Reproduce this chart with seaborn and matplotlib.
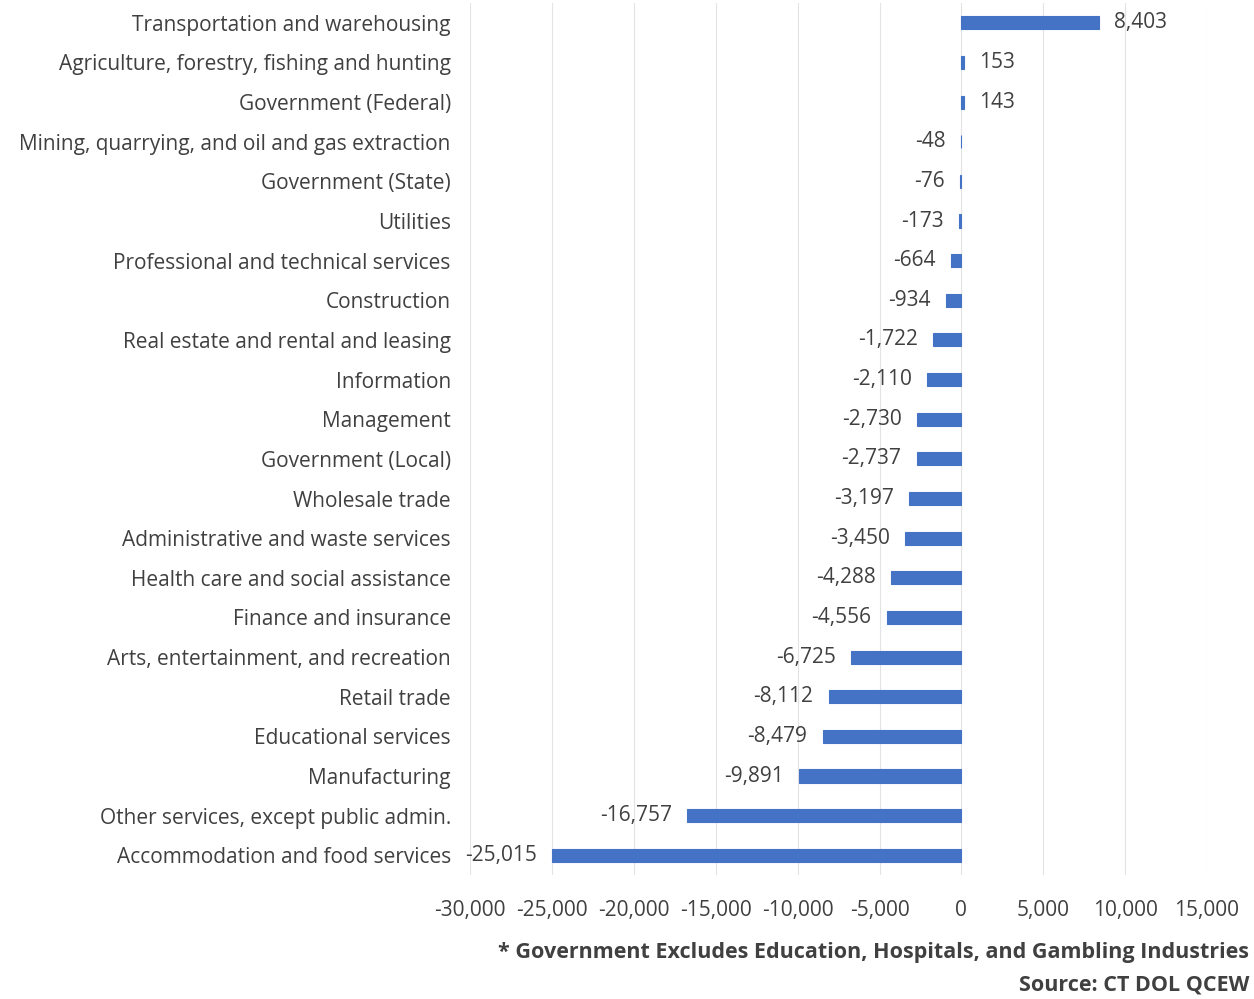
import matplotlib
matplotlib.use("Agg")
import matplotlib.pyplot as plt
import seaborn as sns
import pandas as pd
from matplotlib.ticker import FuncFormatter

industries = [
    "Transportation and warehousing",
    "Agriculture, forestry, fishing and hunting",
    "Government (Federal)",
    "Mining, quarrying, and oil and gas extraction",
    "Government (State)",
    "Utilities",
    "Professional and technical services",
    "Construction",
    "Real estate and rental and leasing",
    "Information",
    "Management",
    "Government (Local)",
    "Wholesale trade",
    "Administrative and waste services",
    "Health care and social assistance",
    "Finance and insurance",
    "Arts, entertainment, and recreation",
    "Retail trade",
    "Educational services",
    "Manufacturing",
    "Other services, except public admin.",
    "Accommodation and food services",
]
job_change = [8403, 153, 143, -48, -76, -173, -664, -934, -1722, -2110, -2730,
              -2737, -3197, -3450, -4288, -4556, -6725, -8112, -8479, -9891,
              -16757, -25015]
x_ticks = list(range(-30000, 15001, 5000))

df = pd.DataFrame({"industry": industries, "change": job_change})

sns.set_style("white")
plt.rcParams["font.family"] = ["Open Sans", "DejaVu Sans"]

fig = plt.figure(figsize=(12.54, 9.99), dpi=100)
ax = fig.add_axes([0.375, 0.124, 0.5875, 0.873])

sns.barplot(data=df, x="change", y="industry", orient="h", color="#4472C4",
            width=0.33, ax=ax, saturation=1, linewidth=0.8, edgecolor="#4472C4")

ax.set_xlim(-30000, 15000)
ax.set_ylim(len(industries) - 0.5, -0.5)
ax.set_xticks(x_ticks)
ax.xaxis.set_major_formatter(FuncFormatter(lambda v, p: f"{int(v):,}"))
ax.grid(axis="x", color="#e3e3e3", linewidth=0.8)
ax.set_axisbelow(True)
for s in ax.spines.values():
    s.set_visible(False)
ax.set_xlabel("")
ax.set_ylabel("")
ax.tick_params(axis="y", length=0, pad=14, labelsize=15, labelcolor="#404040")
ax.tick_params(axis="x", length=0, pad=18, labelsize=15, labelcolor="#404040")

for i, v in enumerate(job_change):
    ax.annotate(f"{v:,}", xy=(v, i), xytext=(11 if v >= 0 else -11, 0),
                textcoords="offset points", va="center",
                ha="left" if v >= 0 else "right", fontsize=15, color="#404040")

fig.text(0.996, 0.047, "* Government Excludes Education, Hospitals, and Gambling Industries",
         ha="right", va="center", fontsize=15.5, fontweight="bold", color="#404040")
fig.text(0.996, 0.014, "Source: CT DOL QCEW",
         ha="right", va="center", fontsize=15.5, fontweight="bold", color="#404040")

fig.savefig("out.png", dpi=100, facecolor="white")
